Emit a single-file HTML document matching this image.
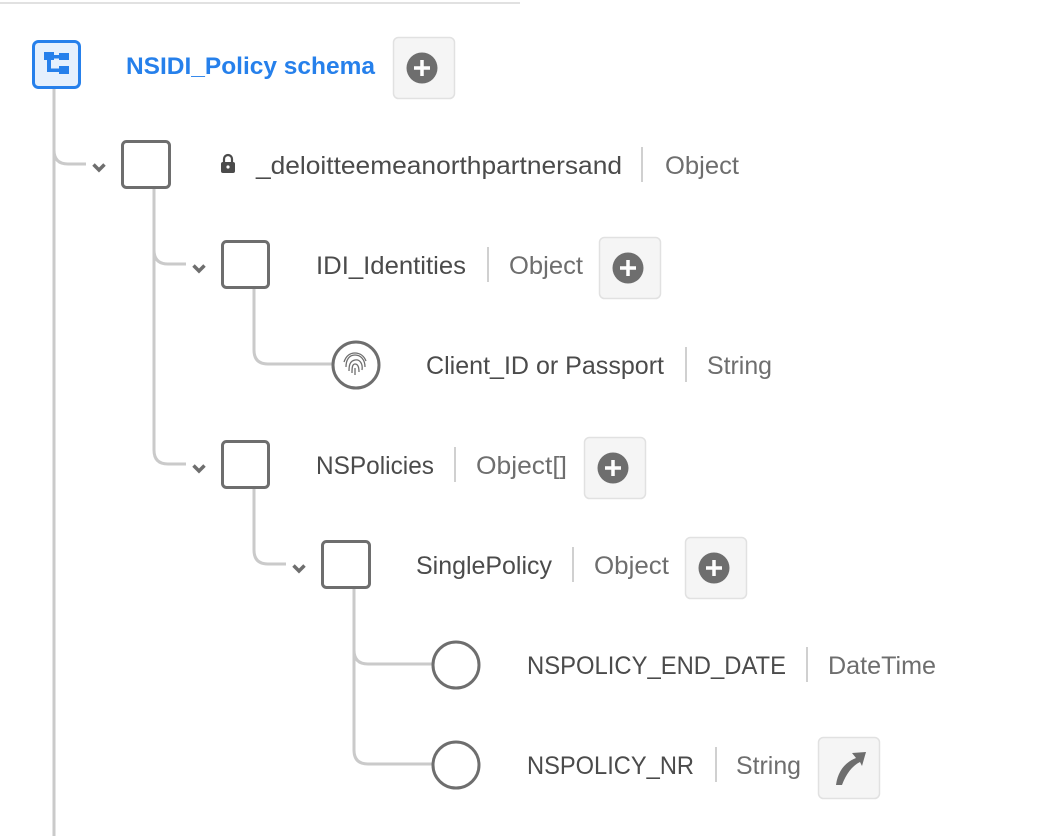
<!DOCTYPE html>
<html><head><meta charset="utf-8"><style>
html,body{margin:0;padding:0;background:#fff;width:1044px;height:836px;overflow:hidden}
svg{display:block}
text{font-family:"Liberation Sans",sans-serif;font-size:25px}
.n{fill:#4b4b4b}.t{fill:#6e6e6e}
</style></head><body>
<svg width="1044" height="836" viewBox="0 0 1044 836" xmlns="http://www.w3.org/2000/svg">
<line x1="0" y1="3" x2="520" y2="3" stroke="#e1e1e1" stroke-width="2"/>
<g fill="none" stroke="#cacaca" stroke-width="3">
<line x1="54" y1="88" x2="54" y2="836"/>
<path d="M54 150 Q54 164 68 164 H86"/>
<path d="M154 188 V250 Q154 264 168 264 H186"/>
<path d="M154 250 V450 Q154 464 168 464 H186"/>
<path d="M254 289 V350 Q254 364 268 364 H333"/>
<path d="M254 489 V550 Q254 564 268 564 H286"/>
<path d="M354 589 V650 Q354 664 368 664 H433"/>
<path d="M354 650 V750 Q354 764 368 764 H433"/>
</g>
<rect x="33.5" y="41.5" width="46" height="46" rx="5" fill="#e5f0fd" stroke="#2680eb" stroke-width="3"/>
<g fill="#2680eb"><rect x="44" y="52" width="10" height="8"/><rect x="59" y="53" width="10" height="7"/><rect x="59" y="66" width="10" height="8"/><rect x="47" y="56" width="4" height="16"/><rect x="47" y="55" width="14" height="3.5"/><rect x="47" y="68.5" width="14" height="3.5"/></g>
<text x="126" y="74" textLength="249" lengthAdjust="spacingAndGlyphs" fill="#2680eb" font-weight="bold" style="font-size:24px">NSIDI_Policy schema</text>
<g id="pb">
<rect x="393.5" y="37.5" width="61" height="61" rx="5" fill="#f5f5f5" stroke="#e1e1e1" stroke-width="1.5"/>
<circle cx="422" cy="68" r="15.5" fill="#6e6e6e"/>
<path d="M422 60v16M414 68h16" stroke="#fff" stroke-width="3.5"/>
</g>
<use href="#pb" x="206" y="200"/>
<use href="#pb" x="191" y="400"/>
<use href="#pb" x="292" y="500"/>
<rect x="818.5" y="737.5" width="61" height="61" rx="5" fill="#f5f5f5" stroke="#e1e1e1" stroke-width="1.5"/>
<path d="M836 785 C838 770 846 762 856 758 L852 753 L866 752 L862 766 L860 762 C852 766 846 774 842 785 Z" fill="#6e6e6e"/>
<g fill="none" stroke="#6e6e6e" stroke-width="3.5">
<path d="M93.5 164.5l5.5 5.5 5.5-5.5"/><path d="M193.5 265.5l5.5 5.5 5.5-5.5"/><path d="M193.5 465.5l5.5 5.5 5.5-5.5"/><path d="M293.5 565.5l5.5 5.5 5.5-5.5"/>
</g>
<g fill="#fff" stroke="#6e6e6e" stroke-width="3">
<rect x="122.5" y="141.5" width="47" height="46" rx="4"/>
<rect x="222.5" y="241.5" width="46" height="46" rx="4"/>
<rect x="222.5" y="441.5" width="46" height="46" rx="4"/>
<rect x="322.5" y="541.5" width="47" height="46" rx="4"/>
<circle cx="356" cy="365" r="23"/>
<circle cx="456" cy="665" r="23"/>
<circle cx="456" cy="765" r="23"/>
</g>
<g fill="none" stroke="#6e6e6e" stroke-width="1.3">
<path d="M349 371c0-6 1-10 6-11s8 4 7 10"/><path d="M346 367c0-7 3-12 9-12s10 5 10 12"/><path d="M352 373c0-4 0-9 3-9s4 4 4 8"/><path d="M355 368v7"/><path d="M344 362c2-6 6-9 11-9s9 3 11 8"/>
</g>
<rect x="221" y="162" width="14" height="11" rx="2" fill="#4b4b4b"/>
<path d="M224 163v-4a4 4 0 0 1 8 0v4" fill="none" stroke="#4b4b4b" stroke-width="2.2"/>
<circle cx="228" cy="167" r="1.6" fill="#fff"/>
<g stroke="#d0d0d0" stroke-width="2">
<line x1="642" y1="147" x2="642" y2="182"/><line x1="488" y1="247" x2="488" y2="282"/><line x1="686" y1="347" x2="686" y2="382"/><line x1="455" y1="447" x2="455" y2="482"/><line x1="573" y1="547" x2="573" y2="582"/><line x1="807" y1="647" x2="807" y2="682"/><line x1="716" y1="747" x2="716" y2="782"/>
</g>
<text class="n" x="256" y="174" textLength="366" lengthAdjust="spacingAndGlyphs">_deloitteemeanorthpartnersand</text>
<text class="t" x="665" y="174" textLength="74" lengthAdjust="spacingAndGlyphs">Object</text>
<text class="n" x="316" y="274" textLength="150" lengthAdjust="spacingAndGlyphs">IDI_Identities</text>
<text class="t" x="509" y="274" textLength="74" lengthAdjust="spacingAndGlyphs">Object</text>
<text class="n" x="426" y="374" textLength="238" lengthAdjust="spacingAndGlyphs">Client_ID or Passport</text>
<text class="t" x="707" y="374" textLength="65" lengthAdjust="spacingAndGlyphs">String</text>
<text class="n" x="316" y="474" textLength="118" lengthAdjust="spacingAndGlyphs">NSPolicies</text>
<text class="t" x="476" y="474" textLength="91" lengthAdjust="spacingAndGlyphs">Object[]</text>
<text class="n" x="416" y="574" textLength="136" lengthAdjust="spacingAndGlyphs">SinglePolicy</text>
<text class="t" x="594" y="574" textLength="75" lengthAdjust="spacingAndGlyphs">Object</text>
<text class="n" x="527" y="674" textLength="259" lengthAdjust="spacingAndGlyphs">NSPOLICY_END_DATE</text>
<text class="t" x="828" y="674" textLength="108" lengthAdjust="spacingAndGlyphs">DateTime</text>
<text class="n" x="527" y="774" textLength="167" lengthAdjust="spacingAndGlyphs">NSPOLICY_NR</text>
<text class="t" x="736" y="774" textLength="65" lengthAdjust="spacingAndGlyphs">String</text>
</svg>
</body></html>
